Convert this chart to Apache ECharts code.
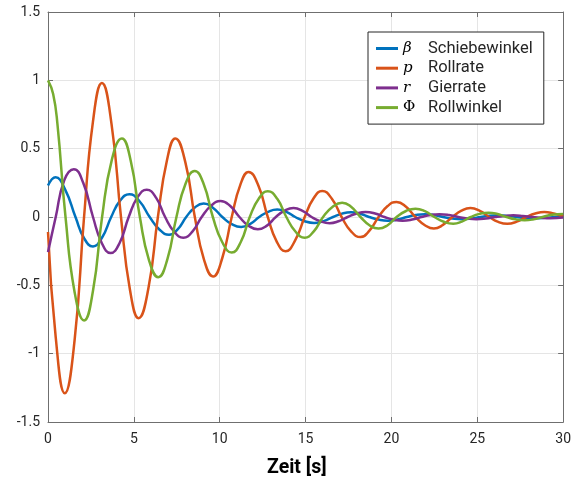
<!DOCTYPE html>
<html>
<head>
<meta charset="utf-8">
<script src="https://cdn.jsdelivr.net/npm/echarts@6/dist/echarts.min.js"></script>
<style>
  html, body { margin: 0; padding: 0; background: #ffffff; }
  #chart { width: 574px; height: 479px; }
</style>
</head>
<body>
<div id="chart"></div>
<script>
// Lateral-directional motion after a disturbance: [t in s, value]
const beta = [[0,0.23],[0.44,0.29],[1.0,0.2],[1.6,0],[2.1,-0.155],[2.62,-0.215],[3.15,-0.15],[3.68,0],[4.2,0.12],[4.74,0.166],[5.33,0.115],[5.92,0],[6.5,-0.093],[7.05,-0.13],[7.55,-0.09],[8.05,0],[8.55,0.07],[9.07,0.098],[9.6,0.068],[10.15,0],[10.7,-0.052],[11.25,-0.073],[11.78,-0.05],[12.3,0],[12.82,0.038],[13.35,0.054],[13.88,0.038],[14.4,0],[14.95,-0.031],[15.5,-0.044],[16.05,-0.03],[16.6,0],[17.12,0.025],[17.65,0.035],[18.18,0.024],[18.7,0],[19.25,-0.019],[19.8,-0.027],[20.35,-0.019],[20.9,0],[21.42,0.015],[21.95,0.021],[22.48,0.015],[23.0,0],[23.55,-0.011],[24.1,-0.016],[24.65,-0.011],[25.2,0],[25.72,0.009],[26.25,0.012],[26.78,0.008],[27.3,0],[27.85,-0.006],[28.4,-0.009],[28.95,-0.006],[29.5,0],[30,0.004]];

const rollRate = [[0,-0.11],[0.45,-0.88],[0.98,-1.29],[1.55,-0.9],[2.1,0],[2.62,0.7],[3.14,0.98],[3.7,0.68],[4.25,0],[4.77,-0.53],[5.28,-0.74],[5.85,-0.52],[6.4,0],[6.92,0.41],[7.42,0.575],[8.0,0.4],[8.55,0],[9.08,-0.31],[9.61,-0.435],[10.15,-0.3],[10.7,0],[11.2,0.235],[11.68,0.33],[12.25,0.23],[12.8,0],[13.32,-0.18],[13.83,-0.25],[14.4,-0.17],[14.95,0],[15.46,0.135],[15.97,0.19],[16.55,0.13],[17.1,0],[17.65,-0.105],[18.2,-0.147],[18.72,-0.1],[19.25,0],[19.78,0.08],[20.3,0.11],[20.85,0.075],[21.4,0],[21.95,-0.06],[22.47,-0.085],[23.0,-0.058],[23.55,0],[24.08,0.046],[24.6,0.065],[25.15,0.045],[25.7,0],[26.22,-0.036],[26.75,-0.05],[27.3,-0.034],[27.85,0],[28.38,0.026],[28.9,0.037],[29.45,0.025],[30,0.004]];

const yawRate = [[0,-0.257],[0.45,0],[0.95,0.27],[1.5,0.35],[2.05,0.25],[2.62,0],[3.13,-0.19],[3.64,-0.264],[4.17,-0.19],[4.7,0],[5.22,0.145],[5.75,0.2],[6.3,0.14],[6.82,0],[7.35,-0.108],[7.88,-0.151],[8.42,-0.105],[8.95,0],[9.5,0.083],[10.05,0.117],[10.6,0.082],[11.15,0],[11.68,-0.064],[12.22,-0.09],[12.75,-0.063],[13.27,0],[13.78,0.046],[14.3,0.065],[14.82,0.045],[15.35,0],[15.88,-0.032],[16.4,-0.045],[16.92,-0.031],[17.45,0],[17.98,0.026],[18.5,0.037],[19.05,0.026],[19.6,0],[20.12,-0.019],[20.65,-0.027],[21.2,-0.019],[21.75,0],[22.28,0.015],[22.8,0.021],[23.35,0.015],[23.9,0],[24.42,-0.011],[24.95,-0.016],[25.5,-0.011],[26.05,0],[26.58,0.008],[27.1,0.012],[27.65,0.008],[28.2,0],[28.72,-0.006],[29.25,-0.009],[30,-0.004]];

const rollAngle = [[0,1.0],[0.3,0.9],[0.55,0.68],[1.02,0],[1.55,-0.55],[2.1,-0.757],[2.62,-0.54],[3.15,0],[3.72,0.42],[4.3,0.575],[4.82,0.41],[5.35,0],[5.88,-0.315],[6.42,-0.44],[6.95,-0.31],[7.48,0],[8.0,0.24],[8.54,0.337],[9.07,0.24],[9.6,0],[10.15,-0.185],[10.7,-0.26],[11.22,-0.185],[11.75,0],[12.28,0.135],[12.8,0.188],[13.35,0.133],[13.88,0],[14.42,-0.108],[14.95,-0.151],[15.48,-0.105],[16.02,0],[16.58,0.075],[17.13,0.105],[17.65,0.075],[18.2,0],[18.72,-0.06],[19.25,-0.085],[19.78,-0.06],[20.3,0],[20.85,0.044],[21.4,0.061],[21.95,0.043],[22.5,0],[23.05,-0.035],[23.6,-0.049],[24.1,-0.034],[24.62,0],[25.13,0.023],[25.65,0.032],[26.18,0.022],[26.7,0],[27.23,-0.017],[27.76,-0.024],[28.28,-0.017],[28.8,0],[29.35,0.016],[30,0.022]];

const seriesLabels = ['Schiebewinkel', 'Rollrate', 'Gierrate', 'Rollwinkel'];
const seriesSymbols = ['β', 'p', 'r', 'Φ'];
const seriesData = [beta, rollRate, yawRate, rollAngle];
const seriesColors = ['#0072BD', '#D95319', '#7E2F8E', '#77AC30'];

const xTicks = { min: 0, max: 30, interval: 5 };
const yTicks = { min: -1.5, max: 1.5, interval: 0.5 };
const xLabel = 'Zeit [s]';

const axisColor = '#6f6f6f';
const textColor = '#262626';
const font = 'Roboto';

const chart = echarts.init(document.getElementById('chart'), null, { renderer: 'canvas' });

const baseX = {
  type: 'value', min: xTicks.min, max: xTicks.max, interval: xTicks.interval,
  axisLine: { show: true, onZero: false, lineStyle: { color: axisColor, width: 1 } },
  axisTick: { show: true, inside: true, length: 5, lineStyle: { color: axisColor } },
};
const baseY = {
  type: 'value', min: yTicks.min, max: yTicks.max, interval: yTicks.interval,
  axisLine: { show: true, onZero: false, lineStyle: { color: axisColor, width: 1 } },
  axisTick: { show: true, inside: true, length: 5, lineStyle: { color: axisColor } },
};

const symbolFor = {};
seriesLabels.forEach((l, i) => { symbolFor[l] = seriesSymbols[i]; });

chart.setOption({
  backgroundColor: '#ffffff',
  animation: false,
  grid: { left: 48, right: 7, top: 12, bottom: 57, containLabel: false },
  title: {
    text: xLabel, left: 262, top: 453,
    textStyle: { fontFamily: font, fontSize: 19.5, fontWeight: 'bold', color: '#000000' }
  },
  legend: {
    orient: 'vertical', left: 368, top: 32,
    padding: [8, 11, 8, 8],
    backgroundColor: '#ffffff',
    borderColor: '#262626', borderWidth: 1,
    itemWidth: 22, itemHeight: 3, itemGap: 2.7, itemTextGap: 8,
    icon: 'rect',
    data: seriesLabels,
    formatter: name => {
      const s = symbolFor[name];
      const style = s === 'Φ' ? 'u' : 's';
      return '{' + style + '|' + s + '}{t|' + name + '}';
    },
    textStyle: {
      rich: {
        s: { fontFamily: 'DejaVu Serif', fontStyle: 'italic', fontSize: 15, width: 25, lineHeight: 17, color: '#000' },
        u: { fontFamily: 'DejaVu Serif', fontSize: 15, width: 25, lineHeight: 17, color: '#000' },
        t: { fontFamily: font, fontSize: 16.5, lineHeight: 17, color: textColor }
      }
    }
  },
  xAxis: [
    Object.assign({}, baseX, {
      position: 'bottom',
      axisLabel: { show: true, margin: 10, fontFamily: font, fontSize: 14, color: textColor },
      splitLine: { show: true, lineStyle: { color: '#e5e5e5', width: 1 } }
    }),
    Object.assign({}, baseX, {
      position: 'top',
      axisLabel: { show: false },
      splitLine: { show: false }
    })
  ],
  yAxis: [
    Object.assign({}, baseY, {
      position: 'left',
      axisLabel: { show: true, margin: 8, fontFamily: font, fontSize: 14, color: textColor },
      splitLine: { show: true, lineStyle: { color: '#e5e5e5', width: 1 } }
    }),
    Object.assign({}, baseY, {
      position: 'right',
      axisLabel: { show: false },
      splitLine: { show: false }
    })
  ],
  series: seriesLabels.map((name, i) => ({
    name: name,
    type: 'line',
    xAxisIndex: 0, yAxisIndex: 0,
    data: seriesData[i],
    smooth: 0.5,
    showSymbol: false,
    symbol: 'none',
    clip: true,
    lineStyle: { color: seriesColors[i], width: 2.5 },
    itemStyle: { color: seriesColors[i] }
  }))
});
</script>
</body>
</html>
